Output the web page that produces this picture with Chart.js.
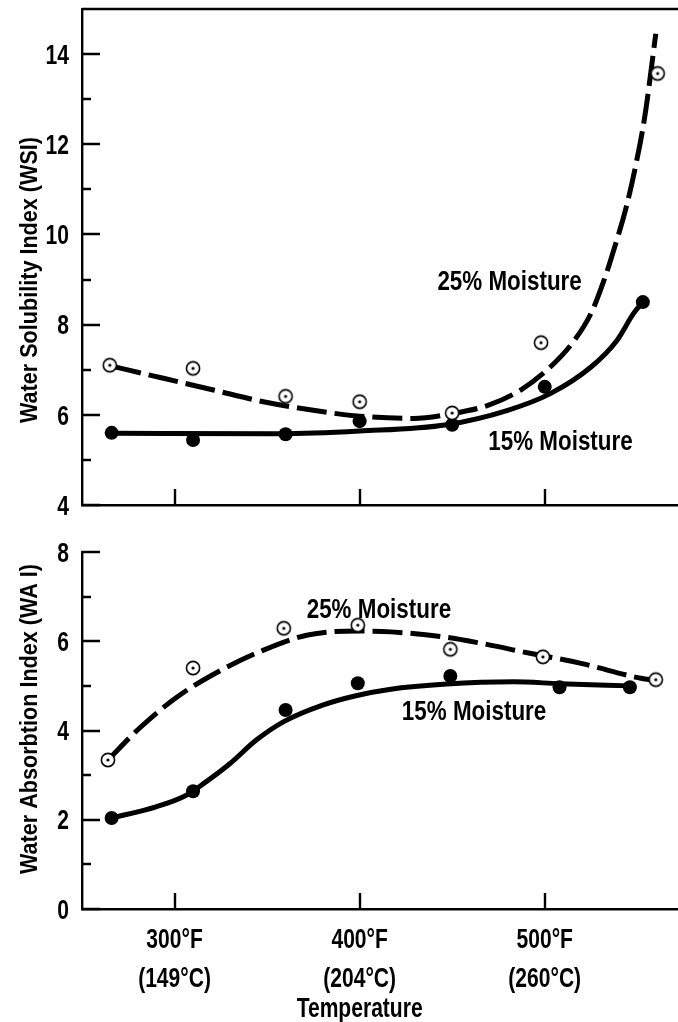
<!DOCTYPE html>
<html>
<head>
<meta charset="utf-8">
<title>WSI and WAI vs temperature</title>
<script src="https://cdn.jsdelivr.net/npm/chart.js@4.4.1/dist/chart.umd.min.js"></script>
<style>
  html, body { margin: 0; padding: 0; background: #fff; }
  #wrap { position: relative; width: 678px; height: 1022px; overflow: hidden; }
  canvas { position: absolute; left: 0; }
  #wsi { top: 0; }
  #wai { top: 520px; }
</style>
</head>
<body>
<div id="wrap">
  <canvas id="wsi" width="678" height="520"></canvas>
  <canvas id="wai" width="678" height="502"></canvas>
</div>
<script>
// measured points, temperature in °F
const wsiTemp25 = [265, 310, 360, 400, 450, 498, 561];
const wsi25 = [7.10, 7.03, 6.41, 6.29, 6.04, 7.60, 13.57];
const wsiTemp15 = [266, 310, 360, 400, 450, 500, 553];
const wsi15 = [5.60, 5.44, 5.57, 5.86, 5.78, 6.62, 8.50];

const waiTemp25 = [264, 310, 359, 399, 449, 499, 560];
const wai25 = [3.34, 5.40, 6.29, 6.36, 5.82, 5.65, 5.14];
const waiTemp15 = [266, 310, 360, 399, 449, 508, 546];
const wai15 = [2.04, 2.64, 4.46, 5.06, 5.22, 4.97, 4.97];

// hand-fitted trend curves
const wsiFitTemp25 = [266, 294, 321, 348, 375, 400, 429, 449, 470, 487, 503, 516, 525, 532, 538, 544, 549, 554, 560];
const wsiFit25 = [7.08, 6.81, 6.55, 6.29, 6.10, 5.97, 5.92, 6.02, 6.22, 6.55, 7.06, 7.65, 8.25, 8.98, 9.75, 10.6, 11.5, 12.6, 14.45];
const wsiFitTemp15 = [266, 357, 400, 447, 480, 503, 525, 539, 548, 553];
const wsiFit15 = [5.59, 5.58, 5.64, 5.78, 6.10, 6.47, 7.06, 7.65, 8.25, 8.50];

const waiFitTemp25 = [264, 281, 301, 326, 348, 372, 399, 417, 447, 465, 492, 519, 552, 560];
const waiFit25 = [3.34, 4.05, 4.74, 5.37, 5.80, 6.14, 6.23, 6.21, 6.09, 5.96, 5.73, 5.51, 5.17, 5.12];
const waiFitTemp15 = [266, 290, 305, 316, 330, 344, 359, 380, 398, 416, 447, 483, 508, 546];
const waiFit15 = [2.04, 2.29, 2.52, 2.82, 3.26, 3.78, 4.20, 4.57, 4.78, 4.92, 5.04, 5.09, 5.05, 5.00];

// axis ticks
const tempTicks = [300, 400, 500];
const tempLabels = [['300°F', '(149°C)'], ['400°F', '(204°C)'], ['500°F', '(260°C)']];
const wsiRange = [4, 15];
const waiRange = [0, 8];

const FONT = "'Liberation Sans', Arial, sans-serif";

const pts = (xs, ys) => xs.map((x, i) => ({ x: x, y: ys[i] }));

// open circle with a centre dot
function ringDot() {
  const c = document.createElement('canvas');
  c.width = 18; c.height = 18;
  const g = c.getContext('2d');
  g.fillStyle = '#fff';
  g.strokeStyle = '#000';
  g.lineWidth = 1.6;
  g.beginPath(); g.arc(9, 9, 6.6, 0, Math.PI * 2); g.fill(); g.stroke();
  g.fillStyle = '#000';
  g.beginPath(); g.arc(9, 9, 1.6, 0, Math.PI * 2); g.fill();
  return c;
}
const ring = ringDot();

function markers(xs, ys, open) {
  return {
    type: 'scatter',
    data: pts(xs, ys),
    pointStyle: open ? ring : 'circle',
    pointRadius: 7,
    backgroundColor: '#000',
    borderWidth: 0,
    showLine: false
  };
}

function curve(xs, ys, dash) {
  return {
    type: 'line',
    data: pts(xs, ys),
    borderColor: '#000',
    borderWidth: 5,
    borderDash: dash,
    borderCapStyle: 'butt',
    cubicInterpolationMode: 'monotone',
    pointRadius: 0,
    fill: false
  };
}

// condensed bold lettering: squeeze a regular face horizontally
function say(ctx, text, x, y, size, sx, align) {
  ctx.save();
  ctx.font = 'bold ' + size + 'px ' + FONT;
  ctx.textAlign = align;
  ctx.textBaseline = 'alphabetic';
  ctx.translate(x, y);
  ctx.scale(sx, 1);
  ctx.fillText(text, 0, 0);
  ctx.restore();
}

// axis lines, inward tick marks, tick labels, curve labels and titles
const decor = {
  id: 'decor',
  afterDraw(chart, args, o) {
    const { ctx, chartArea: a, scales: { x, y } } = chart;
    ctx.save();
    ctx.strokeStyle = '#000';
    ctx.fillStyle = '#000';
    ctx.lineWidth = 2.4;
    ctx.beginPath();
    y.ticks.forEach(t => {
      const py = Math.round(y.getPixelForValue(t.value));
      const len = t.value % 2 === 0 ? 18 : 9;
      ctx.moveTo(a.left, py);
      ctx.lineTo(a.left + len, py);
    });
    x.ticks.forEach(t => {
      const px = Math.round(x.getPixelForValue(t.value));
      ctx.moveTo(px, a.bottom);
      ctx.lineTo(px, a.bottom - 16);
    });
    if (o.topLine) {
      ctx.moveTo(a.left, a.top);
      ctx.lineTo(a.right, a.top);
    }
    ctx.stroke();

    y.ticks.forEach(t => {
      if (t.label) say(ctx, t.label, 69, y.getPixelForValue(t.value) + 9.7, 27, 0.78, 'right');
    });
    if (o.xLabels) {
      x.ticks.forEach(t => {
        const px = x.getPixelForValue(t.value);
        t.label.forEach((line, i) => say(ctx, line, px, a.bottom + 39 + i * 39, 27, 0.78, 'center'));
      });
    }

    (o.notes || []).forEach(n => {
      say(ctx, n.text, x.getPixelForValue(n.x), y.getPixelForValue(n.y), 28, 0.8, 'left');
    });

    ctx.save();
    ctx.translate(37, o.titleY);
    ctx.rotate(-Math.PI / 2);
    say(ctx, o.title, 0, 0, 24, 0.9, 'center');
    ctx.restore();

    if (o.xTitle) {
      say(ctx, o.xTitle, x.getPixelForValue(400), o.xTitleY, 27, 0.78, 'center');
    }
    ctx.restore();
  }
};

function makeOptions(range, axisHeight, padTop, decorOpts) {
  return {
    responsive: false,
    animation: false,
    layout: { autoPadding: false, padding: { top: padTop, left: 0, right: 0, bottom: 0 } },
    plugins: { legend: { display: false }, tooltip: { enabled: false }, decor: decorOpts },
    scales: {
      x: {
        type: 'linear',
        min: 250,
        max: 572,
        afterBuildTicks: s => { s.ticks = tempTicks.map(v => ({ value: v })); },
        afterFit: s => {
          s.height = axisHeight;
          s.paddingLeft = s.paddingRight = 0;
        },
        grid: { display: false },
        border: { display: true, color: '#000', width: 2.4 },
        ticks: {
          display: false,
          callback: v => tempLabels[tempTicks.indexOf(v)]
        }
      },
      y: {
        min: range[0],
        max: range[1],
        afterFit: s => {
          s.width = 82;
          s.paddingTop = s.paddingBottom = 0;
        },
        grid: { display: false },
        border: { display: true, color: '#000', width: 2.4 },
        ticks: {
          display: false,
          stepSize: 1,
          callback: v => (v % 2 === 0 ? String(v) : '')
        }
      }
    }
  };
}

new Chart(document.getElementById('wsi'), {
  type: 'scatter',
  data: {
    datasets: [
      markers(wsiTemp25, wsi25, true),
      markers(wsiTemp15, wsi15, false),
      curve(wsiFitTemp25, wsiFit25, [30, 8]),
      curve(wsiFitTemp15, wsiFit15, [])
    ]
  },
  options: makeOptions(wsiRange, 15, 9, {
    topLine: true,
    title: 'Water Solubility Index (WSI)',
    titleY: 280,
    notes: [
      { text: '25% Moisture', x: 442, y: 8.76 },
      { text: '15% Moisture', x: 469.5, y: 5.22 }
    ]
  }),
  plugins: [decor]
});

new Chart(document.getElementById('wai'), {
  type: 'scatter',
  data: {
    datasets: [
      markers(waiTemp25, wai25, true),
      markers(waiTemp15, wai15, false),
      curve(waiFitTemp25, waiFit25, [30, 8]),
      curve(waiFitTemp15, waiFit15, [])
    ]
  },
  options: makeOptions(waiRange, 113, 32, {
    topLine: false,
    xLabels: true,
    title: 'Water Absorbtion Index (WA I)',
    titleY: 199,
    xTitle: 'Temperature',
    xTitleY: 497,
    notes: [
      { text: '25% Moisture', x: 371.4, y: 6.52 },
      { text: '15% Moisture', x: 422.8, y: 4.23 }
    ]
  }),
  plugins: [decor]
});
</script>
</body>
</html>
